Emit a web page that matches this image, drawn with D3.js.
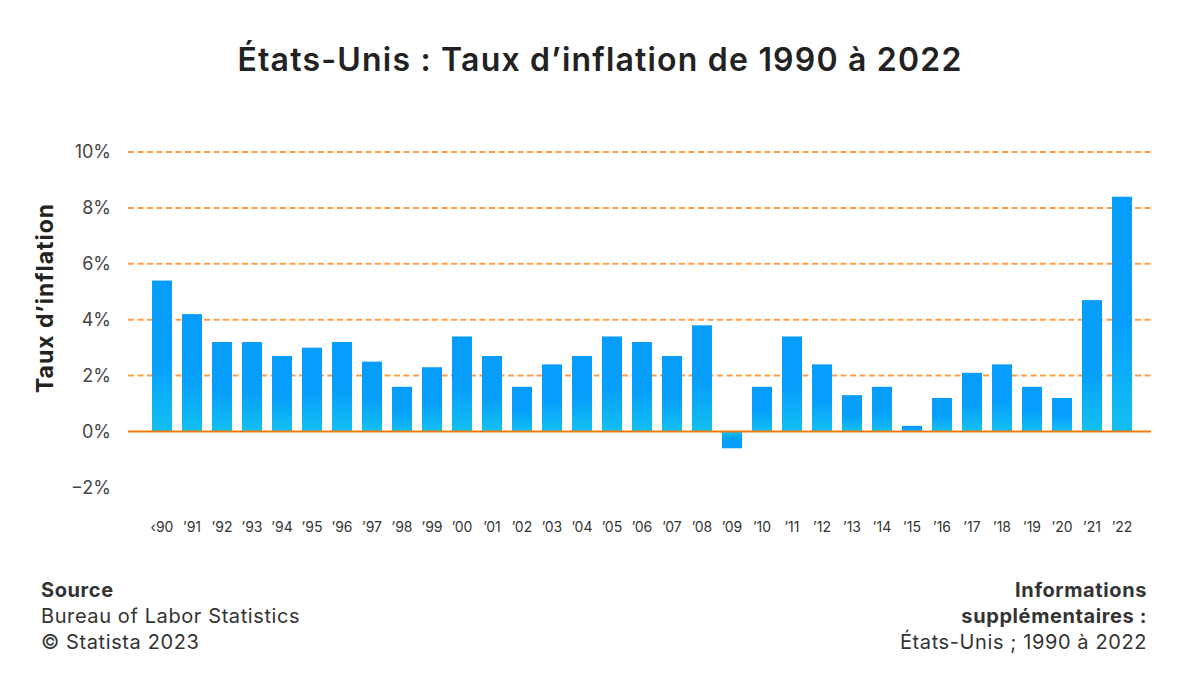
<!DOCTYPE html>
<html>
<head>
<meta charset="utf-8">
<script src="https://cdnjs.cloudflare.com/ajax/libs/d3/7.8.5/d3.min.js"></script>
<style>
    body { margin: 0; background: #fff; }
    svg { display: block; font-family: Inter, "Noto Sans", sans-serif; }
</style>
</head>
<body>
<svg id="chart" width="1200" height="684"></svg>
<script>
// years shown on the x axis
const years = ["‹90", "’91", "’92", "’93", "’94", "’95", "’96", "’97", "’98", "’99",
    "’00", "’01", "’02", "’03", "’04", "’05", "’06", "’07", "’08", "’09",
    "’10", "’11", "’12", "’13", "’14", "’15", "’16", "’17", "’18", "’19",
    "’20", "’21", "’22"];
// inflation rate in percent
const rates = [5.4, 4.2, 3.2, 3.2, 2.7, 3.0, 3.2, 2.5, 1.6, 2.3,
    3.4, 2.7, 1.6, 2.4, 2.7, 3.4, 3.2, 2.7, 3.8, -0.6,
    1.6, 3.4, 2.4, 1.3, 1.6, 0.2, 1.2, 2.1, 2.4, 1.6,
    1.2, 4.7, 8.4];
const yTicks = [-2, 0, 2, 4, 6, 8, 10];

const title = "États-Unis : Taux d’inflation de 1990 à 2022";
const yTitle = "Taux d’inflation";
const sourceLines = ["Bureau of Labor Statistics", "© Statista 2023"];
const infoLines = ["Informations", "supplémentaires :", "États-Unis ; 1990 à 2022"];

const data = years.map((y, i) => ({ year: y, value: rates[i] }));

const svg = d3.select("#chart");

let x = d3.scaleBand()
    .domain(years)
    .range([147, 1137])
    .paddingInner(1 / 3)
    .paddingOuter(1 / 6);

let y = d3.scaleLinear()
    .domain([-2, 10])
    .range([487.4, 152]);

// gradients: cyan near the zero line, blue away from it
let defs = svg.append("defs");
let gUp = defs.append("linearGradient").attr("id", "gradUp")
    .attr("x1", 0).attr("y1", 1).attr("x2", 0).attr("y2", 0);
gUp.append("stop").attr("offset", "0%").attr("stop-color", "#12c0f0");
gUp.append("stop").attr("offset", "45%").attr("stop-color", "#079ffc");
gUp.append("stop").attr("offset", "100%").attr("stop-color", "#069dfe");
let gDown = defs.append("linearGradient").attr("id", "gradDown")
    .attr("x1", 0).attr("y1", 0).attr("x2", 0).attr("y2", 1);
gDown.append("stop").attr("offset", "0%").attr("stop-color", "#12c0f0");
gDown.append("stop").attr("offset", "45%").attr("stop-color", "#079ffc");
gDown.append("stop").attr("offset", "100%").attr("stop-color", "#069dfe");

// title
svg.append("text")
    .attr("x", 600).attr("y", 71)
    .attr("text-anchor", "middle")
    .attr("font-size", 32).attr("font-weight", 600)
    .attr("letter-spacing", 1.2)
    .attr("fill", "#222")
    .text(title);

// grid lines
svg.append("g")
    .selectAll("line")
    .data(yTicks.filter(d => d > 0))
    .enter()
    .append("line")
    .attr("x1", 128).attr("x2", 1151)
    .attr("y1", d => y(d)).attr("y2", d => y(d))
    .attr("stroke", "#ff9d45")
    .attr("stroke-width", 2)
    .attr("stroke-dasharray", "6,3.5");

// y tick labels
svg.append("g")
    .selectAll("text")
    .data(yTicks)
    .enter()
    .append("text")
    .attr("x", 111)
    .attr("y", d => y(d))
    .attr("dy", "0.35em")
    .attr("text-anchor", "end")
    .attr("font-size", 18)
    .attr("fill", "#444")
    .text(d => (d < 0 ? "−" + Math.abs(d) : d) + "%");

// y axis title
svg.append("text")
    .attr("transform", "translate(53,298) rotate(-90)")
    .attr("text-anchor", "middle")
    .attr("font-size", 23).attr("font-weight", 700)
    .attr("letter-spacing", 1)
    .attr("fill", "#222")
    .text(yTitle);

// bars
svg.append("g")
    .selectAll("rect")
    .data(data)
    .enter()
    .append("rect")
    .attr("x", d => x(d.year))
    .attr("width", x.bandwidth())
    .attr("y", d => y(Math.max(0, d.value)))
    .attr("height", d => Math.abs(y(d.value) - y(0)))
    .attr("fill", d => d.value >= 0 ? "url(#gradUp)" : "url(#gradDown)");

// zero line
svg.append("line")
    .attr("x1", 128).attr("x2", 1151)
    .attr("y1", y(0)).attr("y2", y(0))
    .attr("stroke", "#f47a0c")
    .attr("stroke-width", 2);

// x labels
svg.append("g")
    .selectAll("text")
    .data(years)
    .enter()
    .append("text")
    .attr("x", d => x(d) + x.bandwidth() / 2)
    .attr("y", 532)
    .attr("text-anchor", "middle")
    .attr("font-size", 14)
    .attr("fill", "#333")
    .text(d => d);

// footer left
svg.append("text")
    .attr("x", 41).attr("y", 597)
    .attr("font-size", 20).attr("font-weight", 700).attr("fill", "#333")
    .attr("letter-spacing", 0.6)
    .text("Source");
svg.append("g")
    .selectAll("text")
    .data(sourceLines)
    .enter()
    .append("text")
    .attr("x", 41)
    .attr("y", (d, i) => 623 + i * 26)
    .attr("font-size", 20).attr("fill", "#333")
    .attr("letter-spacing", 0.6)
    .text(d => d);

// footer right
svg.append("g")
    .selectAll("text")
    .data(infoLines)
    .enter()
    .append("text")
    .attr("x", 1147)
    .attr("y", (d, i) => 597 + i * 26)
    .attr("text-anchor", "end")
    .attr("font-size", 20)
    .attr("letter-spacing", 0.6)
    .attr("font-weight", (d, i) => i < 2 ? 700 : 400)
    .attr("fill", "#333")
    .text(d => d);
</script>
</body>
</html>
